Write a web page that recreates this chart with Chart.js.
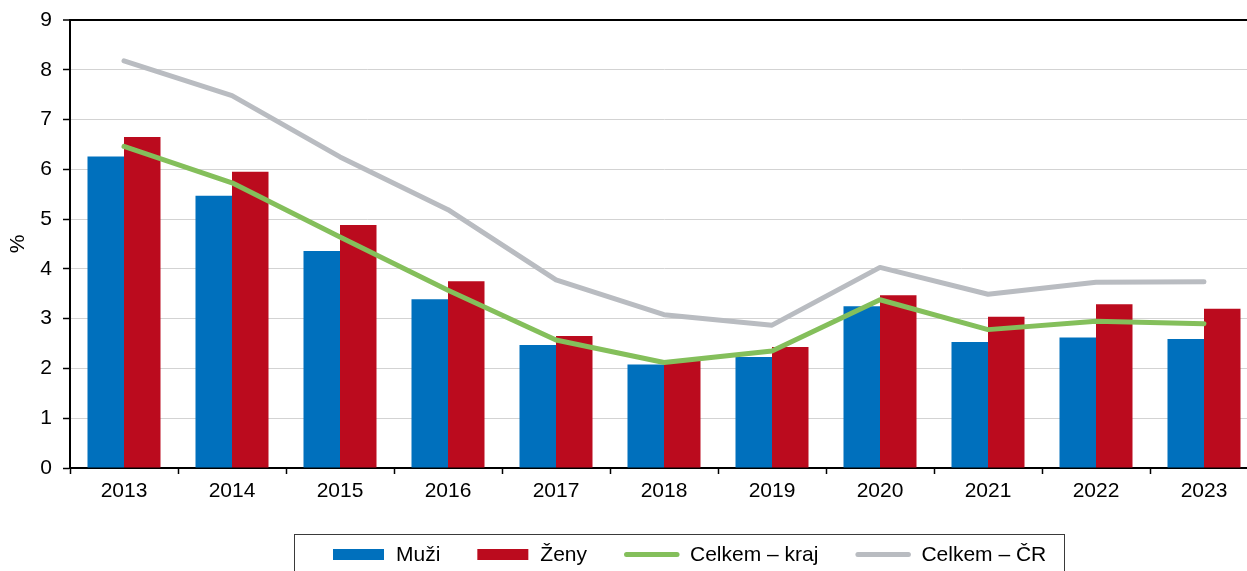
<!DOCTYPE html>
<html>
<head>
<meta charset="utf-8">
<script src="https://cdn.jsdelivr.net/npm/chart.js@4.4.1/dist/chart.umd.min.js"></script>
<style>
  html, body { margin: 0; padding: 0; background: #fff; overflow: hidden; }
  #wrap { width: 1247px; height: 571px; overflow: hidden; position: relative; }
  canvas { display: block; }
</style>
</head>
<body>
<div id="wrap"><canvas id="c" width="1262" height="571" style="width:1262px;height:571px"></canvas></div>
<script>
const years = ['2013','2014','2015','2016','2017','2018','2019','2020','2021','2022','2023'];
const muzi  = [6.26, 5.47, 4.36, 3.39, 2.47, 2.08, 2.23, 3.25, 2.53, 2.62, 2.59];
const zeny  = [6.65, 5.95, 4.88, 3.75, 2.65, 2.15, 2.43, 3.47, 3.04, 3.29, 3.20];
const kraj  = [6.46, 5.73, 4.64, 3.57, 2.57, 2.12, 2.35, 3.38, 2.78, 2.95, 2.90];
const cr    = [8.18, 7.48, 6.25, 5.19, 3.78, 3.08, 2.87, 4.03, 3.49, 3.73, 3.74];
const yTicks = [0, 1, 2, 3, 4, 5, 6, 7, 8, 9];
const seriesNames = ['Muži', 'Ženy', 'Celkem – kraj', 'Celkem – ČR'];

const FONT = '"Liberation Sans", Arial, sans-serif';
const BLUE = '#0070BD', RED = '#BB0B1E', GREEN = '#84BF5B', GREY = '#B9BCC1';

const legendBox = {
  id: 'legendBox',
  afterDraw(chart) {
    const ctx = chart.ctx;
    ctx.save();
    ctx.strokeStyle = '#3a3a3a';
    ctx.lineWidth = 1;
    ctx.strokeRect(294.5, 534.5, 770, 80);
    ctx.font = '21px ' + FONT;
    ctx.textBaseline = 'middle';
    ctx.textAlign = 'left';
    const cy = 554.5;
    let x = 333;
    chart.data.datasets.forEach(ds => {
      if (ds.type === 'line') {
        ctx.strokeStyle = ds.borderColor;
        ctx.lineWidth = 5;
        ctx.lineCap = 'round';
        ctx.beginPath();
        ctx.moveTo(x + 2.5, cy);
        ctx.lineTo(x + 53, cy);
        ctx.stroke();
        x += 55 + 11;
      } else {
        ctx.fillStyle = ds.backgroundColor;
        ctx.fillRect(x, cy - 5.5, 51, 11);
        x += 51 + 12;
      }
      ctx.fillStyle = '#000';
      ctx.fillText(ds.label, x, cy + 1);
      x += ctx.measureText(ds.label).width + 37;
    });
    ctx.restore();
  }
};

new Chart(document.getElementById('c'), {
  type: 'bar',
  data: {
    labels: years,
    datasets: [
      { label: seriesNames[0], data: muzi, backgroundColor: BLUE, order: 3,
        categoryPercentage: 0.676, barPercentage: 1.0 },
      { label: seriesNames[1], data: zeny, backgroundColor: RED, order: 3,
        categoryPercentage: 0.676, barPercentage: 1.0 },
      { type: 'line', label: seriesNames[2], data: kraj, borderColor: GREEN, backgroundColor: GREEN,
        borderWidth: 5, pointRadius: 0, pointHoverRadius: 0, borderCapStyle: 'round', borderJoinStyle: 'round',
        tension: 0, fill: false, order: 1 },
      { type: 'line', label: seriesNames[3], data: cr, borderColor: GREY, backgroundColor: GREY,
        borderWidth: 5, pointRadius: 0, pointHoverRadius: 0, borderCapStyle: 'round', borderJoinStyle: 'round',
        tension: 0, fill: false, order: 2 }
    ]
  },
  options: {
    responsive: false,
    animation: false,
    devicePixelRatio: 1,
    layout: { padding: { top: 20, right: 4, bottom: 0, left: 0 } },
    plugins: { legend: { display: false }, tooltip: { enabled: false } },
    scales: {
      x: {
        offset: true,
        grid: { offset: true, drawOnChartArea: false, drawTicks: true, tickLength: 6, tickColor: '#000', tickWidth: 1.5 },
        border: { display: true, color: '#000', width: 2 },
        ticks: { color: '#000', font: { family: FONT, size: 21 }, padding: 5, maxRotation: 0, autoSkip: false },
        afterFit(scale) { scale.height = 103; scale.paddingLeft = 0; scale.paddingRight = 0; }
      },
      y: {
        min: 0, max: 9,
        afterBuildTicks(scale) { scale.ticks = yTicks.map(v => ({ value: v })); },
        grid: {
          color: ctx => (ctx.tick && ctx.tick.value === 9) ? '#000' : '#D3D3D3',
          lineWidth: ctx => (ctx.tick && ctx.tick.value === 9) ? 2 : 1,
          tickColor: '#000', tickLength: 7, tickWidth: 1.5
        },
        border: { display: true, color: '#000', width: 2 },
        ticks: { color: '#000', font: { family: FONT, size: 21 }, padding: 11 },
        title: { display: true, text: '%', color: '#000', font: { family: FONT, size: 21 }, padding: { top: 6, bottom: 0 } },
        afterFit(scale) { scale.width = 70; scale.paddingTop = 0; scale.paddingBottom = 0; }
      }
    }
  },
  plugins: [legendBox]
});
</script>
</body>
</html>
